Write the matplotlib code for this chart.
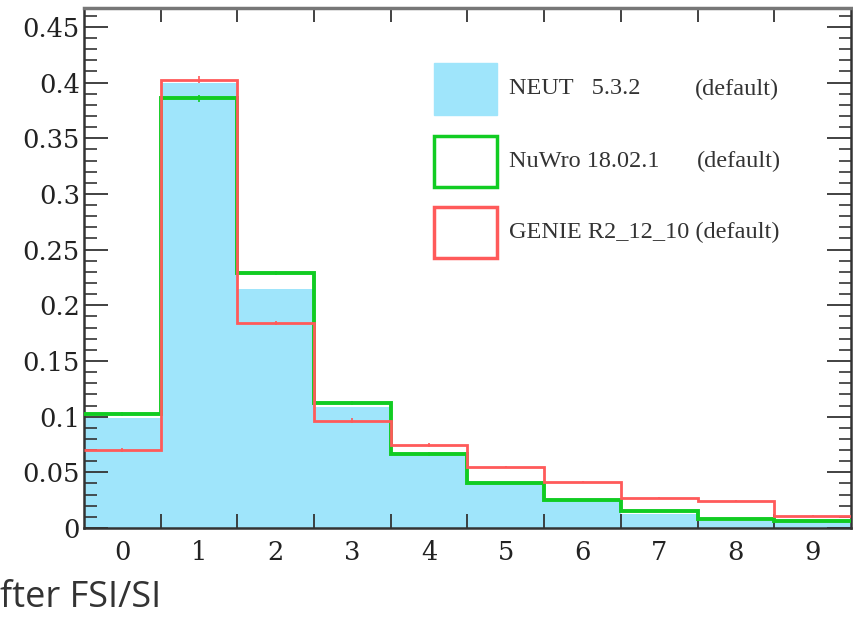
import numpy as np
import matplotlib
matplotlib.use("Agg")
import matplotlib.pyplot as plt
from matplotlib.patches import Rectangle
from matplotlib.ticker import MultipleLocator, FuncFormatter, FixedLocator

# ---- data ----
bin_edges = np.arange(-0.5, 10.0, 1.0)
bin_labels = ["0", "1", "2", "3", "4", "5", "6", "7", "8", "9"]
neut = [0.099, 0.400, 0.215, 0.109, 0.066, 0.040, 0.024, 0.013, 0.0066, 0.0054]
nuwro = [0.1025, 0.386, 0.229, 0.1125, 0.0665, 0.0407, 0.0252, 0.0153, 0.0084, 0.0066]
genie = [0.070, 0.4025, 0.184, 0.0964, 0.0746, 0.0545, 0.0413, 0.0272, 0.0245, 0.011]
nuwro_err = [0.002, 0.003, 0.002, 0.002, 0.0015, 0.001, 0.001, 0.001, 0.0008, 0.0008]
genie_err = [0.002, 0.003, 0.002, 0.002, 0.0015, 0.001, 0.001, 0.001, 0.0008, 0.0008]
legend_names = ["NEUT   5.3.2", "NuWro 18.02.1", "GENIE R2_12_10"]
legend_tags = ["(default)", "(default)", "(default)"]
xlabel_fragment = "fter FSI/SI"

BLUE = "#9fe5fb"
GREEN = "#11cc22"
RED = "#ff5a5a"

fig = plt.figure(figsize=(8.54, 6.24), dpi=100)
ax = fig.add_axes([84 / 854, 96 / 624, (851 - 84) / 854, (528 - 8) / 624])

centers = 0.5 * (bin_edges[:-1] + bin_edges[1:])

ax.stairs(neut, bin_edges, fill=True, color=BLUE, baseline=0, zorder=1)
ax.stairs(nuwro, bin_edges, baseline=None, color=GREEN, linewidth=2.8, zorder=3)
ax.stairs(genie, bin_edges, baseline=None, color=RED, linewidth=2.0, zorder=4)
ax.errorbar(centers, nuwro, yerr=nuwro_err, fmt="none", ecolor=GREEN, elinewidth=1.2, zorder=3)
ax.errorbar(centers, genie, yerr=genie_err, fmt="none", ecolor=RED, elinewidth=1.2, zorder=4)

ax.set_xlim(-0.5, 9.5)
ax.set_ylim(0, 0.467)

# y ticks
ax.yaxis.set_major_locator(MultipleLocator(0.05))
ax.yaxis.set_minor_locator(MultipleLocator(0.01))
ax.yaxis.set_major_formatter(FuncFormatter(lambda v, p: "%g" % round(v, 3)))
ax.tick_params(axis="y", which="major", direction="in", length=17, width=1.3,
               left=True, right=True, pad=3, labelsize=18.5, labelcolor="#222222", color="#333333")
ax.tick_params(axis="y", which="minor", direction="in", length=9, width=1.2,
               left=True, right=True, color="#333333")

# x ticks: marks at bin edges, labels at bin centers
ax.xaxis.set_major_locator(FixedLocator(bin_edges[1:-1]))
ax.xaxis.set_major_formatter(FuncFormatter(lambda v, p: ""))
ax.set_xticks(centers, bin_labels, minor=True)
ax.tick_params(axis="x", which="major", direction="in", length=10, width=1.3,
               top=True, bottom=True, color="#333333")
ax.tick_params(axis="x", which="minor", length=0, pad=9, labelsize=18.5, labelcolor="#222222")

for lab in ax.get_xticklabels(minor=True) + ax.get_yticklabels():
    lab.set_fontfamily("DejaVu Serif")

for s in ax.spines.values():
    s.set_linewidth(1.8)
    s.set_color("#333333")
ax.spines["top"].set_color("#777777")
ax.spines["top"].set_linewidth(2.5)

# legend (manual, ROOT-style)
def to_ax(px, py):
    return ((px - 84) / (851 - 84), (528 - py) / (528 - 8))

boxes = [(63, 115), (136, 187), (207, 258)]
styles = [dict(facecolor=BLUE, edgecolor=BLUE, linewidth=1.0),
          dict(facecolor="white", edgecolor=GREEN, linewidth=2.5),
          dict(facecolor="white", edgecolor=RED, linewidth=2.5)]
tag_x = [695, 697, None]
FS = 17.5
for (y0, y1), st, name, tag, tx in zip(boxes, styles, legend_names, legend_tags, tag_x):
    xa, ya = to_ax(434, y1)
    xb, yb = to_ax(497, y0)
    ax.add_patch(Rectangle((xa, ya), xb - xa, yb - ya, transform=ax.transAxes,
                           zorder=6, **st))
    xt, yt = to_ax(509, 0.5 * (y0 + y1))
    if tx is None:
        ax.text(xt, yt, name + " " + tag, transform=ax.transAxes, va="center", ha="left",
                fontsize=FS, family="Liberation Serif", color="#333333", zorder=7)
    else:
        ax.text(xt, yt, name, transform=ax.transAxes, va="center", ha="left",
                fontsize=FS, family="Liberation Serif", color="#333333", zorder=7)
        xt2, _ = to_ax(tx, 0)
        ax.text(xt2, yt, tag, transform=ax.transAxes, va="center", ha="left",
                fontsize=FS, family="Liberation Serif", color="#333333", zorder=7)

fig.text(0 / 854, 1 - 598 / 624, xlabel_fragment, ha="left", va="center",
         fontsize=26, family="Open Sans", color="#333333")

fig.savefig("out.png", dpi=100)
